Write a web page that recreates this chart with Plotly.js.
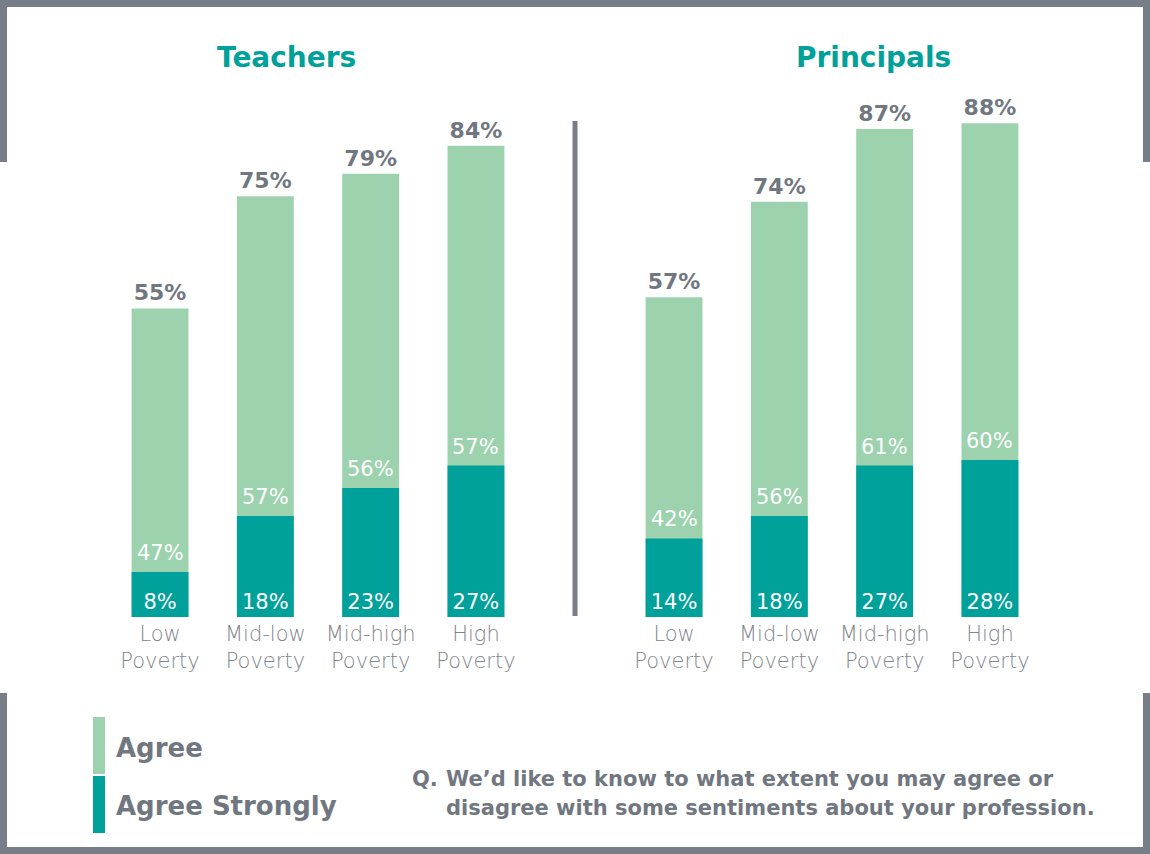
<!DOCTYPE html>
<html>
<head>
<meta charset="utf-8">
<script src="https://cdn.plot.ly/plotly-3.0.1.min.js"></script>
<style>
  body { margin: 0; background: #fff; }
  #chart { width: 1150px; height: 854px; }
</style>
</head>
<body>
<div id="chart"></div>
<script>
var categories = ["Low<br>Poverty", "Mid-low<br>Poverty", "Mid-high<br>Poverty", "High<br>Poverty"];

var teachStrong = [8, 18, 23, 27];
var teachAgree = [47, 57, 56, 57];
var teachTotal = [55, 75, 79, 84];

var prinStrong = [14, 18, 27, 28];
var prinAgree = [42, 56, 61, 60];
var prinTotal = [57, 74, 87, 88];

var questionLines = [
  "We’d like to know to what extent you may agree or",
  "disagree with some sentiments about your profession."
];

var lightGreen = "#9cd3ae";
var teal = "#00a19a";
var gray = "#717780";
var frameGray = "#787e87";
var font = "'DejaVu Sans', 'Open Sans', sans-serif";

// pixel -> paper helpers (plot area: y 56..617, full width)
function px(x) { return x / 1150; }
function py(y) { return (617 - y) / 561; }

function panel(strong, total, xa) {
  var light = {
    type: "bar", x: categories, y: total, xaxis: xa, yaxis: "y",
    marker: { color: lightGreen },
    texttemplate: "%{y}%", textposition: "outside",
    textfont: { family: font, size: 22, color: gray, weight: "bold" },
    cliponaxis: false, hoverinfo: "skip", showlegend: false
  };
  var dark = {
    type: "bar", x: categories, y: strong, xaxis: xa, yaxis: "y",
    marker: { color: teal },
    texttemplate: "%{y}%", textposition: "inside", insidetextanchor: "start",
    textfont: { family: font, size: 21, color: "#ffffff" },
    constraintext: "none",
    hoverinfo: "skip", showlegend: false
  };
  return [light, dark];
}

var data = panel(teachStrong, teachTotal, "x").concat(panel(prinStrong, prinTotal, "x2"));

var annotations = [];
function agreeLabels(strong, agree, xr) {
  strong.forEach(function (s, i) {
    annotations.push({
      xref: xr, yref: "y", x: categories[i], y: s, yanchor: "bottom",
      text: agree[i] + "%", showarrow: false, yshift: 5,
      font: { family: font, size: 21, color: "#ffffff" }
    });
  });
}
agreeLabels(teachStrong, teachAgree, "x");
agreeLabels(prinStrong, prinAgree, "x2");

function label(x, y, text, size, color, xanchor, weight) {
  return { xref: "paper", yref: "paper", x: px(x), y: py(y), xanchor: xanchor, yanchor: "middle",
    align: "left", text: text, showarrow: false,
    font: { family: font, size: size, color: color, weight: weight } };
}

annotations.push(
  label(286, 57, "Teachers", 28, teal, "center", "bold"),
  label(873, 57, "Principals", 28, teal, "center", "bold"),
  label(114, 748, "Agree", 26, gray, "left", "bold"),
  label(114, 806, "Agree Strongly", 26, gray, "left", "bold"),
  label(410, 779, "Q.", 21, gray, "left", "bold"),
  label(444, 779, questionLines[0], 21, gray, "left", "bold"),
  label(444, 808, questionLines[1], 21, gray, "left", "bold")
);

function rect(x0, y0, x1, y1, color) {
  return { type: "rect", xref: "paper", yref: "paper", x0: px(x0), x1: px(x1), y0: py(y0), y1: py(y1),
    fillcolor: color, line: { width: 0 }, layer: "above" };
}
var shapes = [
  // frame, top part
  rect(0, 0, 1150, 7, frameGray),
  rect(0, 0, 7, 162, frameGray),
  rect(1143, 0, 1150, 162, frameGray),
  // frame, bottom part
  rect(0, 693, 7, 854, frameGray),
  rect(0, 847, 1150, 854, frameGray),
  rect(1143, 693, 1150, 854, frameGray),
  // divider
  { type: "line", xref: "paper", yref: "paper", x0: px(575), x1: px(575), y0: py(121), y1: py(616),
    line: { color: frameGray, width: 5 } },
  // legend swatches
  rect(93, 717, 105, 774, lightGreen),
  rect(93, 776, 105, 833, teal)
];

var xaxisBase = {
  showgrid: false, zeroline: false, showline: false, ticks: "",
  range: [-0.5, 3.5], fixedrange: true, ticklabelstandoff: 2,
  tickfont: { family: font, size: 21, color: "#80858c", weight: 200 }
};

var layout = {
  width: 1150, height: 854,
  margin: { l: 0, r: 0, t: 56, b: 237 },
  paper_bgcolor: "#ffffff", plot_bgcolor: "#ffffff",
  barmode: "overlay", bargap: 0.46,
  showlegend: false,
  xaxis: Object.assign({}, xaxisBase, { domain: [107.4 / 1150, 528.6 / 1150], anchor: "y" }),
  xaxis2: Object.assign({}, xaxisBase, { domain: [621.4 / 1150, 1042.6 / 1150], anchor: "y" }),
  yaxis: { range: [0, 100], visible: false, fixedrange: true },
  annotations: annotations,
  shapes: shapes
};

Plotly.newPlot("chart", data, layout, { displayModeBar: false, staticPlot: true });
</script>
</body>
</html>
